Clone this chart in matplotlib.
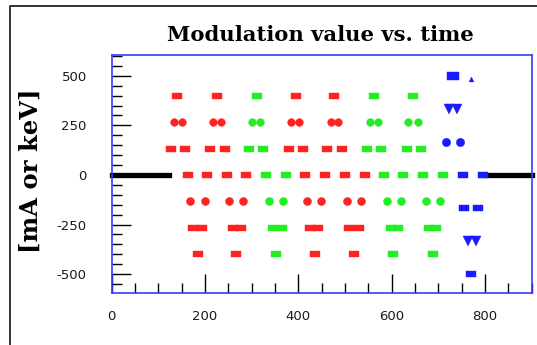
import matplotlib
matplotlib.use("Agg")
import matplotlib.pyplot as plt
from matplotlib.lines import Line2D
from matplotlib.path import Path
from matplotlib.ticker import MultipleLocator

plt.rcParams["axes.unicode_minus"] = False

# ---- data: modulation value vs. time ----
# positive phase, +400 level
t_p400 = [140, 226, 312, 394, 477, 563, 645]
c_p400 = ["r", "r", "g", "r", "r", "g", "g"]
# +267 level (pairs)
t_p267 = [134, 151, 218, 235, 301, 318, 385, 402, 471, 486, 553, 570, 636, 656]
c_p267 = ["r", "r", "r", "r", "g", "g", "r", "r", "r", "r", "g", "g", "g", "g"]
# +133 level (pairs)
t_p133 = [127, 157, 211, 243, 295, 325, 380, 411, 462, 494, 548, 578, 632, 662]
c_p133 = ["r", "r", "r", "r", "g", "g", "r", "r", "r", "r", "g", "g", "g", "g"]
# zero crossings
t_zero = [164, 205, 248, 288, 331, 374, 415, 458, 499, 542, 583, 625, 668, 709, 752, 795]
c_zero = ["r", "r", "r", "r", "g", "g", "r", "r", "r", "r", "g", "g", "g", "g", "b", "b"]
# negative phase
t_m133 = [168, 200, 252, 282, 338, 368, 419, 449, 505, 535, 589, 619, 673, 703]
c_m133 = ["r", "r", "r", "r", "g", "g", "r", "r", "r", "r", "g", "g", "g", "g"]
t_m267 = [175, 194, 260, 278, 346, 364, 426, 443, 509, 529, 598, 613, 679, 696]
c_m267 = ["r", "r", "r", "r", "g", "g", "r", "r", "r", "r", "g", "g", "g", "g"]
t_m400 = [185, 267, 353, 436, 520, 602, 688]
c_m400 = ["r", "r", "g", "r", "r", "g", "g"]
# last (blue) cycle
t_b167 = [716, 746]
t_b333 = [722, 739]
t_b500 = [731]
t_b484 = [771]
t_bm167 = [756, 786]
t_bm333 = [763, 780]
t_bm500 = [771]

# idle baseline before and after the scan
base_left = [0, 122]
base_right = [800, 900]

# ---- styling ----
palette = {"r": "#ff2222", "g": "#22ee22", "b": "#1a1aff"}
rect = Path([(-1, -0.7), (1, -0.7), (1, 0.7), (-1, 0.7), (-1, -0.7)],
            [Path.MOVETO, Path.LINETO, Path.LINETO, Path.LINETO, Path.CLOSEPOLY])
wide = Path([(-1, -0.55), (1, -0.55), (1, 0.55), (-1, 0.55), (-1, -0.55)],
            [Path.MOVETO, Path.LINETO, Path.LINETO, Path.LINETO, Path.CLOSEPOLY])

fig = plt.figure(figsize=(5.37, 3.45), dpi=100)
ax = fig.add_axes([0.208, 0.1507, 0.782, 0.6899])

lw_base = 3.8
ax.plot(base_left, [0, 0], color="black", lw=lw_base, solid_capstyle="projecting",
        clip_on=False, zorder=2)
ax.plot(base_right, [0, 0], color="black", lw=lw_base, solid_capstyle="projecting",
        clip_on=False, zorder=2)


def draw(ts, level, colors, marker, size):
    for t, c in zip(ts, colors):
        ax.plot([t], [level], linestyle="none", marker=marker, markersize=size,
                markerfacecolor=palette[c], markeredgecolor=palette[c],
                markeredgewidth=0.3, zorder=3, clip_on=False)


draw(t_p400, 400, c_p400, wide, 7.8)
draw(t_p267, 267, c_p267, "o", 5.6)
draw(t_p133, 133, c_p133, rect, 6.5)
draw(t_zero, 0, c_zero, rect, 6.5)
draw(t_m133, -133, c_m133, "o", 5.8)
draw(t_m267, -267, c_m267, rect, 6.5)
draw(t_m400, -400, c_m400, wide, 7.8)

draw(t_b167, 167, ["b"] * len(t_b167), "o", 6.0)
draw(t_b333, 333, ["b"] * len(t_b333), "v", 6.5)
draw(t_b500, 500, ["b"] * len(t_b500), rect, 8.0)
draw(t_b484, 484, ["b"] * len(t_b484), "^", 3.5)
draw(t_bm167, -167, ["b"] * len(t_bm167), rect, 6.5)
draw(t_bm333, -333, ["b"] * len(t_bm333), "v", 6.5)
draw(t_bm500, -500, ["b"] * len(t_bm500), rect, 7.0)

ax.set_xlim(0, 900)
ax.set_ylim(-595, 605)

ax.xaxis.set_major_locator(MultipleLocator(200))
ax.xaxis.set_minor_locator(MultipleLocator(50))
ax.yaxis.set_major_locator(MultipleLocator(250))
ax.yaxis.set_minor_locator(MultipleLocator(50))

ax.tick_params(which="both", direction="in", colors="black", labelcolor="#1a1a1a",
               labelsize=9.5, top=False, right=False)
ax.tick_params(which="major", length=13.5, width=1.0)
ax.tick_params(which="minor", length=7.0, width=1.0)
ax.tick_params(axis="y", pad=18)
ax.tick_params(axis="x", pad=12)

for s in ax.spines.values():
    s.set_color("#3a3aff")
    s.set_linewidth(1.2)

fig.text(0.596, 0.899, "Modulation value vs. time", ha="center", va="center",
         family="DejaVu Serif", fontweight="bold", fontsize=15.2)
fig.text(0.058, 0.504, "[mA or keV]", ha="center", va="center", rotation=90,
         family="DejaVu Serif", fontweight="bold", fontsize=17.5)

# outer panel frame (left and top edges)
fig.add_artist(Line2D([10 / 537, 10 / 537, 1.0], [0.0, 1 - 6 / 345, 1 - 6 / 345],
                      transform=fig.transFigure, color="#333333", lw=1.4))

fig.savefig("out.png", dpi=100)
